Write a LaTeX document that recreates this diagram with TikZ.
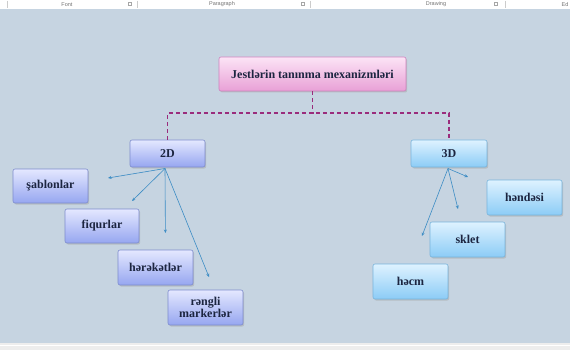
\documentclass[tikz,border=0pt]{standalone}
\usepackage{fontspec}
\setmainfont{Liberation Serif}
\setsansfont{Liberation Sans}
\usetikzlibrary{arrows.meta}
\definecolor{bgc}{HTML}{C6D4E1}
\definecolor{txt}{HTML}{1C2540}
\definecolor{dashc}{HTML}{9A2C7C}
\definecolor{arrc}{HTML}{3C8CC4}
\tikzset{
  box/.style={rounded corners=2pt, minimum height=#1, align=center, inner sep=1pt,
    font=\fontsize{12}{12.5}\selectfont\bfseries, text=txt, line width=0.6pt},
  box/.default=34pt,
  pinkbox/.style={box=34pt, draw={rgb,255:red,205;green,130;blue,190}, top color={rgb,255:red,252;green,228;blue,246}, bottom color={rgb,255:red,232;green,160;blue,214},
    preaction={fill=black!35, opacity=0.5, transform canvas={xshift=1.2pt,yshift=-1.5pt}}},
  bluebox/.style={box=#1, draw={rgb,255:red,125;green,140;blue,205}, top color={rgb,255:red,228;green,232;blue,255}, bottom color={rgb,255:red,150;green,166;blue,240},
    preaction={fill=black!35, opacity=0.5, transform canvas={xshift=1.2pt,yshift=-1.5pt}}},
  cyanbox/.style={box=#1, draw={rgb,255:red,120;green,180;blue,220}, top color={rgb,255:red,222;green,242;blue,255}, bottom color={rgb,255:red,140;green,204;blue,246},
    preaction={fill=black!35, opacity=0.5, transform canvas={xshift=1.2pt,yshift=-1.5pt}}},
  dashconn/.style={draw=dashc, line width=1.5pt, dash pattern=on 4pt off 3pt},
  arr/.style={draw=arrc, line width=0.6pt, -{Stealth[length=3.5pt,width=3pt]}},
  tb/.style={font=\sffamily\fontsize{5.5}{6}\selectfont, text=black!55, inner sep=0pt},
}
\begin{document}
\begin{tikzpicture}[x=1pt,y=-1pt]
\useasboundingbox (0,0) rectangle (570,350);
% background
\fill[bgc] (0,9) rectangle (570,343);
\fill[white] (0,0) rectangle (570,9);
\fill[black!7] (0,343) rectangle (570,350);
\draw[white, line width=0.8pt] (0,345) -- (570,345);
% toolbar
\node[tb] (tfont) at (67,4.5) {Font};
\node[tb] (tpara) at (222,4.5) {Paragraph};
\node[tb] (tdraw) at (436,4.5) {Drawing};
\node[tb] (ted) at (565,4.5) {Ed};
\draw[black!20, line width=0.4pt] (7,1) -- (7,8) (137,1) -- (137,8) (310,1) -- (310,8) (505,1) -- (505,8);
\draw[black!35, line width=0.4pt] (128.5,2.5) rectangle (131.5,5.5) (301.5,2.5) rectangle (304.5,5.5) (494.5,2.5) rectangle (497.5,5.5);
% nodes
\node[pinkbox, minimum width=187pt] (title) at (312.5,74) {Jestlərin tanınma mexanizmləri};
\node[bluebox=27pt, minimum width=75pt] (d2) at (167.5,153.5) {2D};
\node[cyanbox=27pt, minimum width=76pt] (d3) at (449,153.5) {3D};
\node[bluebox=34pt, minimum width=75pt] (sab) at (50.5,186) {şablonlar};
\node[bluebox=34pt, minimum width=74pt] (fiq) at (102,226) {fiqurlar};
\node[bluebox=35pt, minimum width=75pt] (her) at (155.5,267.5) {hərəkətlər};
\node[bluebox=35pt, minimum width=75pt] (ren) at (205.5,307.5) {rəngli\\[-1pt]markerlər};
\node[cyanbox=35pt, minimum width=75pt] (hen) at (524.5,197.5) {həndəsi};
\node[cyanbox=35pt, minimum width=75pt] (skl) at (467.5,239.5) {sklet};
\node[cyanbox=35pt, minimum width=75pt] (hecm) at (410.5,281.5) {həcm};
% dashed connectors
\coordinate (m) at (312.5,113);
\draw[dashconn] (title.south) -- (m);
\draw[dashconn] (d2.north) |- (m) -| (d3.north);
% arrows from 2D
\coordinate (o2) at (165,168.5);
\coordinate (e1) at (108,178);
\coordinate (e2) at (132,201);
\coordinate (e3) at (165.4,233);
\coordinate (e4) at (209,277);
\draw[arr] (o2) -- (e1);
\draw[arr] (o2) -- (e2);
\draw[arr] (o2) -- (e3);
\draw[arr] (o2) -- (e4);
% arrows from 3D
\coordinate (o3) at (448,168.5);
\coordinate (f1) at (468,177);
\coordinate (f2) at (458,209);
\coordinate (f3) at (422,236);
\draw[arr] (o3) -- (f1);
\draw[arr] (o3) -- (f2);
\draw[arr] (o3) -- (f3);
\end{tikzpicture}
\end{document}
